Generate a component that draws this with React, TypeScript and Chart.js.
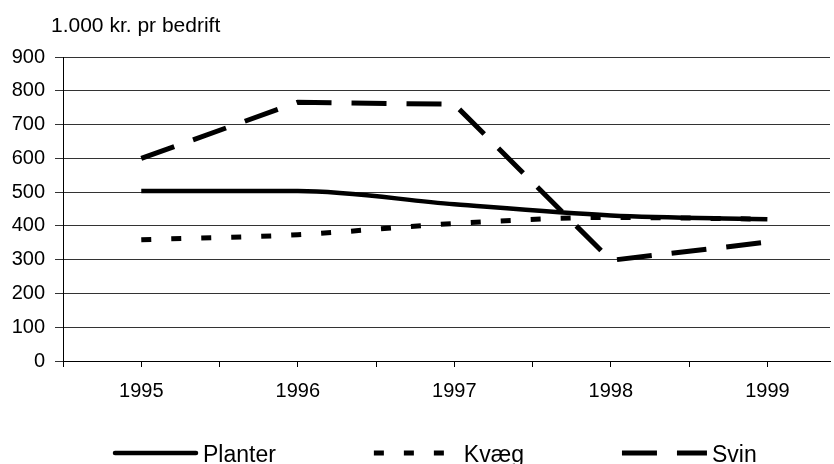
import React, { useEffect, useRef } from 'react';
import { Chart, registerables } from 'chart.js';

Chart.register(...registerables);

const years = [1995, 1996, 1997, 1998, 1999];
const planter = [503, 503, 464, 431, 420];
const kvaeg = [359, 374, 407, 425, 420];
const svin = [600, 766, 760, 298, 352];
const seriesNames = ['Planter', 'Kvæg', 'Svin'];
const yTitle = '1.000 kr. pr bedrift';

const FONT = '"Liberation Sans", Arial, Helvetica, sans-serif';

const overlayPlugin = {
  id: 'overlay',
  afterDraw(chart: any) {
    const ctx = chart.ctx;
    ctx.save();
    ctx.fillStyle = '#000';
    ctx.textAlign = 'left';
    ctx.textBaseline = 'alphabetic';
    ctx.font = `21px ${FONT}`;
    ctx.fillText(yTitle, 51, 32);

    ctx.font = `23px ${FONT}`;
    let x = 113;
    const y = 453;
    chart.data.datasets.forEach((ds: any) => {
      const dash = ds.borderDash || [];
      ctx.beginPath();
      ctx.setLineDash(dash);
      ctx.lineWidth = ds.borderWidth;
      ctx.strokeStyle = ds.borderColor;
      if (dash.length) {
        ctx.lineCap = 'butt';
        ctx.moveTo(x, y);
        ctx.lineTo(x + 85, y);
      } else {
        ctx.lineCap = 'round';
        ctx.moveTo(x + 2, y);
        ctx.lineTo(x + 83, y);
      }
      ctx.stroke();
      ctx.setLineDash([]);
      const tx = x + 90;
      ctx.fillText(ds.label, tx, 462);
      x = tx + ctx.measureText(ds.label).width + 98;
    });
    ctx.restore();
  },
};

export default function App() {
  const ref = useRef<HTMLCanvasElement>(null);

  useEffect(() => {
    if (!ref.current) return;
    const mk = (vals: number[]) => years.map((yr, i) => ({ x: yr, y: vals[i] }));
    const chart = new Chart(ref.current, {
      type: 'line',
      data: {
        datasets: [
          {
            label: seriesNames[0],
            data: mk(planter),
            borderColor: '#000',
            borderWidth: 4.5,
            pointRadius: 0,
            cubicInterpolationMode: 'monotone',
            fill: false,
          },
          {
            label: seriesNames[1],
            data: mk(kvaeg),
            borderColor: '#000',
            borderWidth: 5,
            borderDash: [10, 20],
            pointRadius: 0,
            cubicInterpolationMode: 'monotone',
            fill: false,
          },
          {
            label: seriesNames[2],
            data: mk(svin),
            borderColor: '#000',
            borderWidth: 5,
            borderDash: [35, 20],
            pointRadius: 0,
            tension: 0,
            fill: false,
          },
        ],
      },
      options: {
        responsive: false,
        animation: false,
        events: [],
        layout: { padding: { top: 57, right: 4, bottom: 0, left: 0 } },
        plugins: {
          legend: { display: false },
          tooltip: { enabled: false },
          title: { display: false },
        },
        scales: {
          x: {
            type: 'linear',
            min: 1994.5,
            max: 1999.4,
            border: { display: true, color: '#000', width: 1 },
            grid: {
              drawOnChartArea: false,
              drawTicks: true,
              tickLength: 6,
              color: '#000',
            },
            ticks: {
              stepSize: 0.5,
              includeBounds: false,
              autoSkip: false,
              maxRotation: 0,
              padding: 12,
              color: '#000',
              font: { family: FONT, size: 20 },
              callback: (v: any) => (Number(v) % 1 === 0 ? String(v) : ''),
            },
            afterFit: (s: any) => {
              s.height = 103;
            },
          },
          y: {
            min: 0,
            max: 900,
            border: { display: true, color: '#000', width: 1 },
            grid: {
              color: '#333',
              lineWidth: 1,
              drawTicks: true,
              tickLength: 8,
            },
            ticks: {
              stepSize: 100,
              padding: 10,
              color: '#000',
              font: { family: FONT, size: 20 },
            },
            afterFit: (s: any) => {
              s.width = 63;
            },
          },
        },
      },
      plugins: [overlayPlugin],
    } as any);
    return () => chart.destroy();
  }, []);

  return (
    <div style={{ position: 'absolute', left: 0, top: 0, width: 834, height: 464, background: '#fff' }}>
      <canvas ref={ref} width={834} height={464} style={{ display: 'block' }} />
    </div>
  );
}
